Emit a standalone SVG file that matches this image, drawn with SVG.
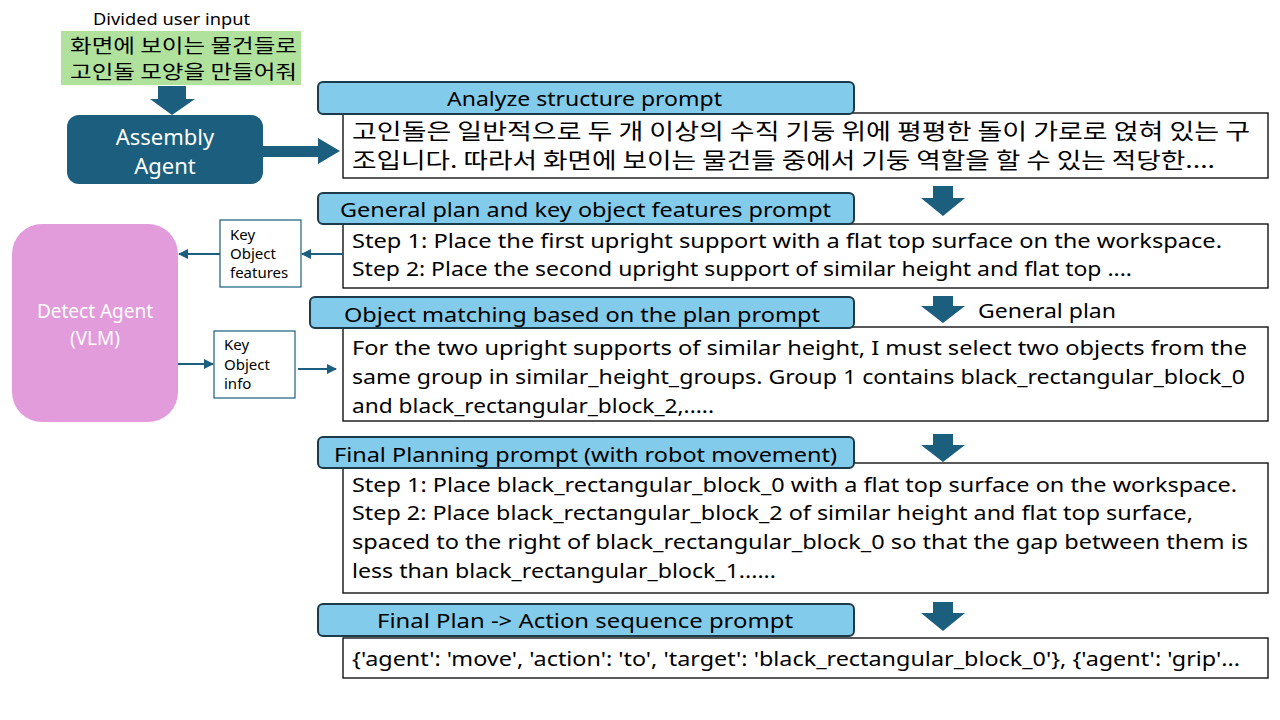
<svg xmlns="http://www.w3.org/2000/svg" width="1280" height="720" viewBox="0 0 1280 720">
<defs>
<style>
.t{font-family:"Noto Sans","Noto Sans CJK KR",sans-serif;fill:#000}
.k{font-family:"Noto Sans CJK KR","Noto Sans",sans-serif;fill:#000}
.hdr{fill:#83cbea;stroke:#1d3a4a;stroke-width:2}
.box{fill:#fff;stroke:#000;stroke-width:1.3}
.sbox{fill:#fff;stroke:#1b5e7e;stroke-width:1.2}
.blk{fill:#1b5e7e}
.ln{stroke:#1b5e7e;stroke-width:2;fill:none}
</style>
<marker id="ah" viewBox="0 0 10 10" refX="9" refY="5" markerWidth="5" markerHeight="5" orient="auto">
<path d="M0,0 L10,5 L0,10 z" fill="#1b5e7e"/>
</marker>
</defs>
<rect width="1280" height="720" fill="#fff"/>

<g id="user-input">
<text class="t" x="93" y="25" font-size="17" textLength="157" lengthAdjust="spacingAndGlyphs">Divided user input</text>
<rect x="61" y="31" width="240" height="54" fill="#b1e29d"/>
<text class="k" x="70" y="53" font-size="19" textLength="227" lengthAdjust="spacingAndGlyphs">화면에 보이는 물건들로</text>
<text class="k" x="70" y="79" font-size="19" textLength="227" lengthAdjust="spacingAndGlyphs">고인돌 모양을 만들어줘</text>
</g>

<g id="assembly-agent">
<rect x="67" y="115" width="196" height="69" rx="12" fill="#1b5e7e"/>
<text x="165" y="145" font-size="22" text-anchor="middle" font-family="Noto Sans,sans-serif" fill="#fff">Assembly</text>
<text x="165" y="174" font-size="22" text-anchor="middle" font-family="Noto Sans,sans-serif" fill="#fff">Agent</text>
</g>

<g id="detect-agent">
<rect x="12" y="224" width="166" height="198" rx="30" fill="#e29cdb"/>
<text x="95" y="318" font-size="19" text-anchor="middle" font-family="Noto Sans,sans-serif" fill="#fff">Detect Agent</text>
<text x="95" y="345" font-size="19" text-anchor="middle" font-family="Noto Sans,sans-serif" fill="#fff">(VLM)</text>
</g>

<g id="key-object-features">
<rect class="sbox" x="220" y="220" width="81" height="67"/>
<text class="t" x="230" y="240" font-size="15">Key</text>
<text class="t" x="230" y="259" font-size="15">Object</text>
<text class="t" x="230" y="278" font-size="15">features</text>
</g>

<g id="key-object-info">
<rect class="sbox" x="214" y="331" width="81" height="67"/>
<text class="t" x="224" y="350" font-size="15">Key</text>
<text class="t" x="224" y="370" font-size="15">Object</text>
<text class="t" x="224" y="389" font-size="15">info</text>
</g>

<g id="analyze-structure">
<rect class="box" x="343" y="113" width="925" height="65"/>
<rect class="hdr" x="318" y="82" width="536" height="32" rx="5"/>
<text class="t" x="447" y="106" font-size="20" textLength="275" lengthAdjust="spacingAndGlyphs">Analyze structure prompt</text>
<text class="k" x="352" y="139" font-size="22" textLength="898" lengthAdjust="spacingAndGlyphs">고인돌은 일반적으로 두 개 이상의 수직 기둥 위에 평평한 돌이 가로로 얹혀 있는 구</text>
<text class="k" x="352" y="168" font-size="22" textLength="863" lengthAdjust="spacingAndGlyphs">조입니다. 따라서 화면에 보이는 물건들 중에서 기둥 역할을 할 수 있는 적당한....</text>
</g>

<g id="general-plan">
<rect class="box" x="343" y="224" width="925" height="64"/>
<rect class="hdr" x="318" y="193" width="536" height="31" rx="5"/>
<text class="t" x="340" y="217" font-size="20" textLength="491" lengthAdjust="spacingAndGlyphs">General plan and key object features prompt</text>
<text class="t" x="352" y="248" font-size="20" textLength="870" lengthAdjust="spacingAndGlyphs">Step 1: Place the first upright support with a flat top surface on the workspace.</text>
<text class="t" x="352" y="276" font-size="20" textLength="780" lengthAdjust="spacingAndGlyphs">Step 2: Place the second upright support of similar height and flat top ....</text>
</g>

<g id="object-matching">
<rect class="box" x="343" y="327" width="925" height="94"/>
<rect class="hdr" x="310" y="297" width="544" height="31" rx="5"/>
<text class="t" x="344" y="322" font-size="20" textLength="476" lengthAdjust="spacingAndGlyphs">Object matching based on the plan prompt</text>
<text class="t" x="352" y="355" font-size="20" textLength="895" lengthAdjust="spacingAndGlyphs">For the two upright supports of similar height, I must select two objects from the</text>
<text class="t" x="352" y="384" font-size="20" textLength="893" lengthAdjust="spacingAndGlyphs">same group in similar_height_groups. Group 1 contains black_rectangular_block_0</text>
<text class="t" x="352" y="413" font-size="20" textLength="362" lengthAdjust="spacingAndGlyphs">and black_rectangular_block_2,.....</text>
</g>

<g id="final-planning">
<rect class="box" x="343" y="463" width="925" height="130"/>
<rect class="hdr" x="318" y="437" width="536" height="31" rx="5"/>
<text class="t" x="334" y="462" font-size="20" textLength="503" lengthAdjust="spacingAndGlyphs">Final Planning prompt (with robot movement)</text>
<text class="t" x="352" y="492" font-size="20" textLength="885" lengthAdjust="spacingAndGlyphs">Step 1: Place black_rectangular_block_0 with a flat top surface on the workspace.</text>
<text class="t" x="352" y="520" font-size="20" textLength="841" lengthAdjust="spacingAndGlyphs">Step 2: Place black_rectangular_block_2 of similar height and flat top surface,</text>
<text class="t" x="352" y="549" font-size="20" textLength="896" lengthAdjust="spacingAndGlyphs">spaced to the right of black_rectangular_block_0 so that the gap between them is</text>
<text class="t" x="352" y="578" font-size="20" textLength="424" lengthAdjust="spacingAndGlyphs">less than black_rectangular_block_1......</text>
</g>

<g id="action-sequence">
<rect class="box" x="343" y="638" width="925" height="40"/>
<rect class="hdr" x="318" y="604" width="536" height="32" rx="5"/>
<text class="t" x="377" y="628" font-size="20" textLength="416" lengthAdjust="spacingAndGlyphs">Final Plan -&gt; Action sequence prompt</text>
<text class="t" x="352" y="666" font-size="20" textLength="888" lengthAdjust="spacingAndGlyphs">{'agent': 'move', 'action': 'to', 'target': 'black_rectangular_block_0'}, {'agent': 'grip'...</text>
</g>

<g id="connectors">
<path class="blk" d="M158,86 L186,86 L186,99 L195,99 L172,115 L150,99 L158,99 Z"/>
<path class="blk" d="M263,146 L318,146 L318,138 L340,151 L318,164 L318,157 L263,157 Z"/>
<path class="blk" d="M933,186 L953,186 L953,198 L965,198 L943,216 L921,198 L933,198 Z"/>
<path class="blk" d="M933,296 L953,296 L953,306 L965,306 L943,323 L921,306 L933,306 Z"/>
<text class="t" x="978" y="318" font-size="20" textLength="138" lengthAdjust="spacingAndGlyphs">General plan</text>
<path class="blk" d="M933,434 L953,434 L953,445 L965,445 L943,462 L921,445 L933,445 Z"/>
<path class="blk" d="M933,602 L953,602 L953,613 L965,613 L943,631 L921,613 L933,613 Z"/>
<line class="ln" x1="343" y1="254" x2="302" y2="254" marker-end="url(#ah)"/>
<line class="ln" x1="220" y1="254" x2="179" y2="254" marker-end="url(#ah)"/>
<line class="ln" x1="178" y1="364" x2="213" y2="364" marker-end="url(#ah)"/>
<line class="ln" x1="298" y1="369" x2="336" y2="369" marker-end="url(#ah)"/>
</g>
</svg>
